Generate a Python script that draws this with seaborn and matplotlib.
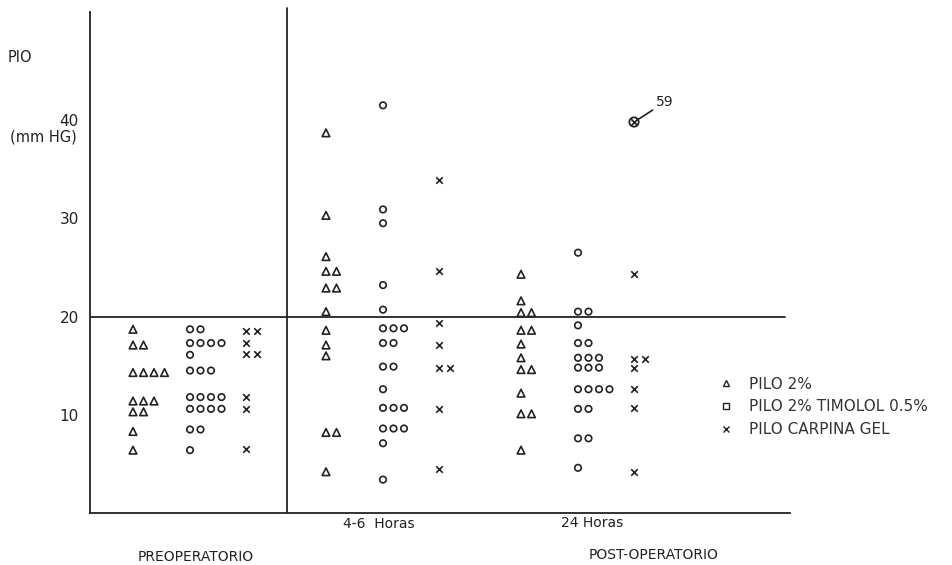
import matplotlib
matplotlib.use("Agg")
import matplotlib.pyplot as plt
from matplotlib.lines import Line2D
import seaborn as sns
import pandas as pd
import numpy as np

# ---------------- data (PIO, mm Hg) ----------------
groups = ["PREOPERATORIO", "4-6 Horas", "24 Horas"]
drugs = ["PILO 2%", "PILO 2% TIMOLOL 0.5%", "PILO CARPINA GEL"]

preop_pilo = [18.7, 17.1, 17.1, 14.3, 14.3, 14.3, 14.3, 11.4, 11.4, 11.4,
              10.3, 10.3, 8.3, 6.4]
preop_timolol = [18.7, 18.7, 17.3, 17.3, 17.3, 17.3, 16.1, 14.5, 14.5, 14.5,
                 11.8, 11.8, 11.8, 11.8, 10.6, 10.6, 10.6, 10.6, 8.5, 8.5, 6.4]
preop_gel = [18.5, 18.5, 17.3, 16.2, 16.2, 11.8, 10.6, 6.5]

h46_pilo = [38.7, 30.3, 26.1, 24.6, 24.6, 22.9, 22.9, 20.5, 18.6, 17.1,
            16.0, 8.2, 8.2, 4.2]
h46_timolol = [41.5, 30.9, 29.5, 23.2, 20.7, 18.8, 18.8, 18.8, 17.3, 17.3,
               14.9, 14.9, 12.6, 10.7, 10.7, 10.7, 8.6, 8.6, 8.6, 7.1, 3.4]
h46_gel = [33.9, 24.6, 19.3, 17.1, 14.8, 14.8, 10.6, 4.5]

h24_pilo = [24.3, 21.6, 20.4, 20.4, 18.6, 18.6, 17.2, 15.8, 14.6, 14.6,
            12.2, 10.1, 10.1, 6.4]
h24_timolol = [26.5, 20.5, 20.5, 19.1, 17.3, 17.3, 15.8, 15.8, 15.8,
               14.8, 14.8, 14.8, 12.6, 12.6, 12.6, 12.6, 10.6, 10.6,
               7.6, 7.6, 4.6]
h24_gel = [59, 24.3, 15.7, 15.7, 14.8, 12.6, 10.7, 4.2]

yticks = [10, 20, 30, 40]
threshold = 20
outlier_limit = 45      # values above this are drawn at the cap and labelled
outlier_cap = 39.8

series = {
    ("PREOPERATORIO", "PILO 2%"): preop_pilo,
    ("PREOPERATORIO", "PILO 2% TIMOLOL 0.5%"): preop_timolol,
    ("PREOPERATORIO", "PILO CARPINA GEL"): preop_gel,
    ("4-6 Horas", "PILO 2%"): h46_pilo,
    ("4-6 Horas", "PILO 2% TIMOLOL 0.5%"): h46_timolol,
    ("4-6 Horas", "PILO CARPINA GEL"): h46_gel,
    ("24 Horas", "PILO 2%"): h24_pilo,
    ("24 Horas", "PILO 2% TIMOLOL 0.5%"): h24_timolol,
    ("24 Horas", "PILO CARPINA GEL"): h24_gel,
}

# ---------------- layout ----------------
group_base = {"PREOPERATORIO": 1.0, "4-6 Horas": 2.93, "24 Horas": 4.88}
drug_offset = {"PILO 2%": -0.57, "PILO 2% TIMOLOL 0.5%": 0.0, "PILO CARPINA GEL": 0.56}
step = 0.105

rows = []
for (g, d), vals in series.items():
    counts = {}
    for v in vals:
        k = counts.get(v, 0)
        counts[v] = k + 1
        is_out = v > outlier_limit
        rows.append(dict(group=g, drug=d, value=v,
                         plot_y=outlier_cap if is_out else v,
                         x=group_base[g] + drug_offset[d] + k * step,
                         outlier=is_out))
df = pd.DataFrame(rows)

W, H = 953, 565
fig = plt.figure(figsize=(W / 100, H / 100), dpi=100)
sns.set_style("white")
plt.rcParams["font.family"] = ["DejaVu Sans"]

ax_l, ax_r, ax_t, ax_b = 90, 790, 12, 513
ax = fig.add_axes([ax_l / W, 1 - ax_b / H, (ax_r - ax_l) / W, (ax_b - ax_t) / H])

ink = "#222222"
markers = {"PILO 2%": "^", "PILO 2% TIMOLOL 0.5%": "o", "PILO CARPINA GEL": "x"}
sizes = {"PILO 2%": 30, "PILO 2% TIMOLOL 0.5%": 22, "PILO CARPINA GEL": 22}
for d in drugs:
    sub = df[df.drug == d]
    sns.scatterplot(data=sub, x="x", y="plot_y", marker=markers[d], s=sizes[d],
                    color="black", linewidth=1.2, ax=ax, legend=False, zorder=3)
    coll = ax.collections[-1]
    coll.set_edgecolor(ink)
    coll.set_facecolor("none" if markers[d] != "x" else ink)

# outlier annotation
out = df[df.outlier]
for _, r in out.iterrows():
    ax.scatter([r.x], [r.plot_y], s=45, facecolor="none", edgecolor=ink,
               linewidth=1.3, zorder=4)
    ax.annotate(f"{r.value:g}", xy=(r.x, r.plot_y), xytext=(r.x + 0.22, r.plot_y + 1.6),
                fontsize=10, color=ink,
                arrowprops=dict(arrowstyle="-", color=ink, lw=1.2,
                                shrinkA=0, shrinkB=3))

ax.set_xlim(0, 7)
ax.set_ylim(0, 51)
ax.axhline(threshold, xmin=0, xmax=6.95 / 7, color=ink, lw=1.3, zorder=2)
ax.plot([1.97, 1.97], [0, 51.4], color=ink, lw=1.3, clip_on=False, zorder=2)

for s in ["top", "right"]:
    ax.spines[s].set_visible(False)
for s in ["left", "bottom"]:
    ax.spines[s].set_color(ink)
    ax.spines[s].set_linewidth(1.3)

ax.set_yticks(yticks)
ax.set_yticklabels([str(t) for t in yticks], fontsize=11, color=ink)
ax.tick_params(axis="y", direction="out", length=7, width=1.2, color=ink, pad=1)
ax.set_xticks([])
ax.set_xlabel("")
ax.set_ylabel("")

def fx(px):
    return px / W

def fy(py):
    return 1 - py / H

fig.text(fx(8), fy(58), "PIO", fontsize=10.5, color=ink, va="center", ha="left")
fig.text(fx(10), fy(137), "(mm HG)", fontsize=10.5, color=ink, va="center", ha="left")
fig.text(fx(379), fy(524), "4-6  Horas", fontsize=10, color=ink, va="center", ha="center")
fig.text(fx(592), fy(523), "24 Horas", fontsize=10, color=ink, va="center", ha="center")
fig.text(fx(196), fy(557), "PREOPERATORIO", fontsize=10, color=ink, va="center", ha="center")
fig.text(fx(654), fy(555), "POST-OPERATORIO", fontsize=10, color=ink, va="center", ha="center")

handles = [
    Line2D([], [], marker="^", ls="none", mfc="none", mec=ink, ms=5, mew=1),
    Line2D([], [], marker="s", ls="none", mfc="none", mec=ink, ms=4, mew=1),
    Line2D([], [], marker="x", ls="none", mec=ink, ms=4.5, mew=1),
]
fig.legend(handles, drugs, loc="upper left", bbox_to_anchor=(fx(711), fy(369)),
           frameon=False, fontsize=11, handlelength=1.0, handletextpad=1.0,
           labelspacing=0.5, borderpad=0, labelcolor="#333333")

fig.savefig("out.png", dpi=100, facecolor="white")
